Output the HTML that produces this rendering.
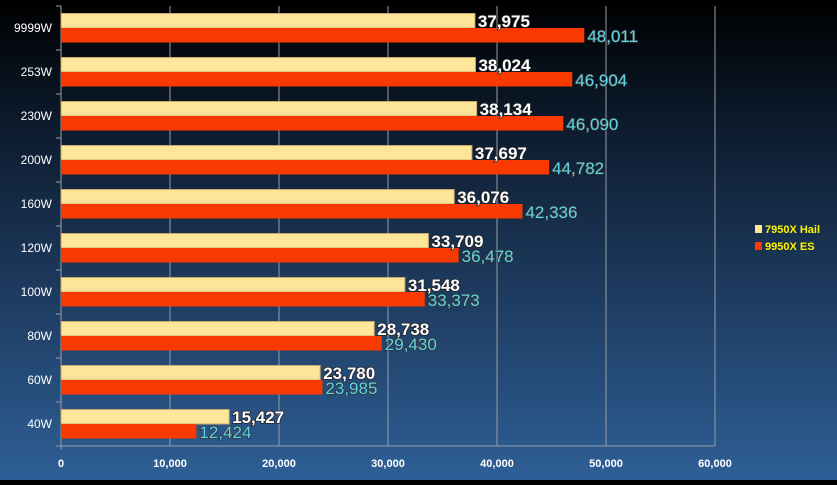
<!DOCTYPE html>
<html><head><meta charset="utf-8"><style>
html,body{margin:0;padding:0}
body{width:837px;height:480px;overflow:hidden;background:linear-gradient(to bottom,#000 0%,#0c1a2c 25%,#1d3a5e 60%,#2e5f96 100%);font-family:"Liberation Sans",sans-serif}
</style></head><body>
<svg id="chart" width="837" height="480" xmlns="http://www.w3.org/2000/svg"></svg>
<script>
const categories=["9999W","253W","230W","200W","160W","120W","100W","80W","60W","40W"];
const seriesHail=[37975,38024,38134,37697,36076,33709,31548,28738,23780,15427];
const seriesES=[48011,46904,46090,44782,42336,36478,33373,29430,23985,12424];
const xTicks=[0,10000,20000,30000,40000,50000,60000];
const seriesNames=["7950X Hail","9950X ES"];

const svg=document.getElementById('chart');
const NS='http://www.w3.org/2000/svg';
const x0=61,x1=715,xMax=60000,yTop=6,band=44;
function xs(v){return x0+(x1-x0)*v/xMax;}
function yb(i){return yTop+band*i;}
function mk(t,a,txt){const e=document.createElementNS(NS,t);for(const k in a)e.setAttribute(k,a[k]);if(txt!==undefined)e.textContent=txt;svg.appendChild(e);return e;}
const fmt=v=>v.toLocaleString('en-US');

xTicks.forEach(t=>{
  if(t>0){const g=mk('line',{x1:xs(t),x2:xs(t),y1:yTop,y2:yb(10),stroke:'#9a9ea4','stroke-width':1});
  
  }
  const l=mk('text',{x:xs(t),y:467,fill:'#fff','font-size':11,'font-weight':'bold','text-anchor':'middle'},fmt(t));
  
  
});
const ax=mk('line',{x1:x0,x2:x0,y1:yTop,y2:yb(10)+4,stroke:'#9a9ea4','stroke-width':1});


const axx=mk('line',{x1:x0-4,x2:x1,y1:yb(10),y2:yb(10),stroke:'#9a9ea4','stroke-width':1});


for(let i=0;i<=10;i++){const t=mk('line',{x1:x0-5,x2:x0,y1:yb(i),y2:yb(i),stroke:'#9a9ea4'});

}

categories.forEach((c,i)=>{
  const by=yb(i);
  const cl=mk('text',{x:52,y:by+26,fill:'#fff','font-size':12,'text-anchor':'end'},c);
  
  
  const b1=mk('rect',{x:x0,y:by+7.5,width:xs(seriesHail[i])-x0,height:14.5,fill:'#fde59a',stroke:'#c9a86a','stroke-width':1});
  
  
  const b2=mk('rect',{x:x0,y:by+22,width:xs(seriesES[i])-x0,height:14.5,fill:'#f93a00'});
  
  
  const v1=mk('text',{x:xs(seriesHail[i])+3,y:by+21,fill:'#fff','font-size':17,'font-weight':'bold',stroke:'#222','stroke-width':1.5,'paint-order':'stroke'},fmt(seriesHail[i]));
  
  
  const v2=mk('text',{x:xs(seriesES[i])+3,y:by+36,fill:'#5fd6e6','font-size':17,stroke:'#333','stroke-width':1.5,'paint-order':'stroke'},fmt(seriesES[i]));
  
  
});

const legColors=['#fde59a','#f93a00'];
seriesNames.forEach((n,i)=>{
  const ly=229+i*17;
  const s=mk('rect',{x:755,y:ly-4,width:7,height:8,fill:legColors[i]});
  
  
  const t=mk('text',{x:765,y:ly+4,fill:'#fff200','font-size':11,'font-weight':'bold'},n);
  
  
});
</script>
</body></html>
